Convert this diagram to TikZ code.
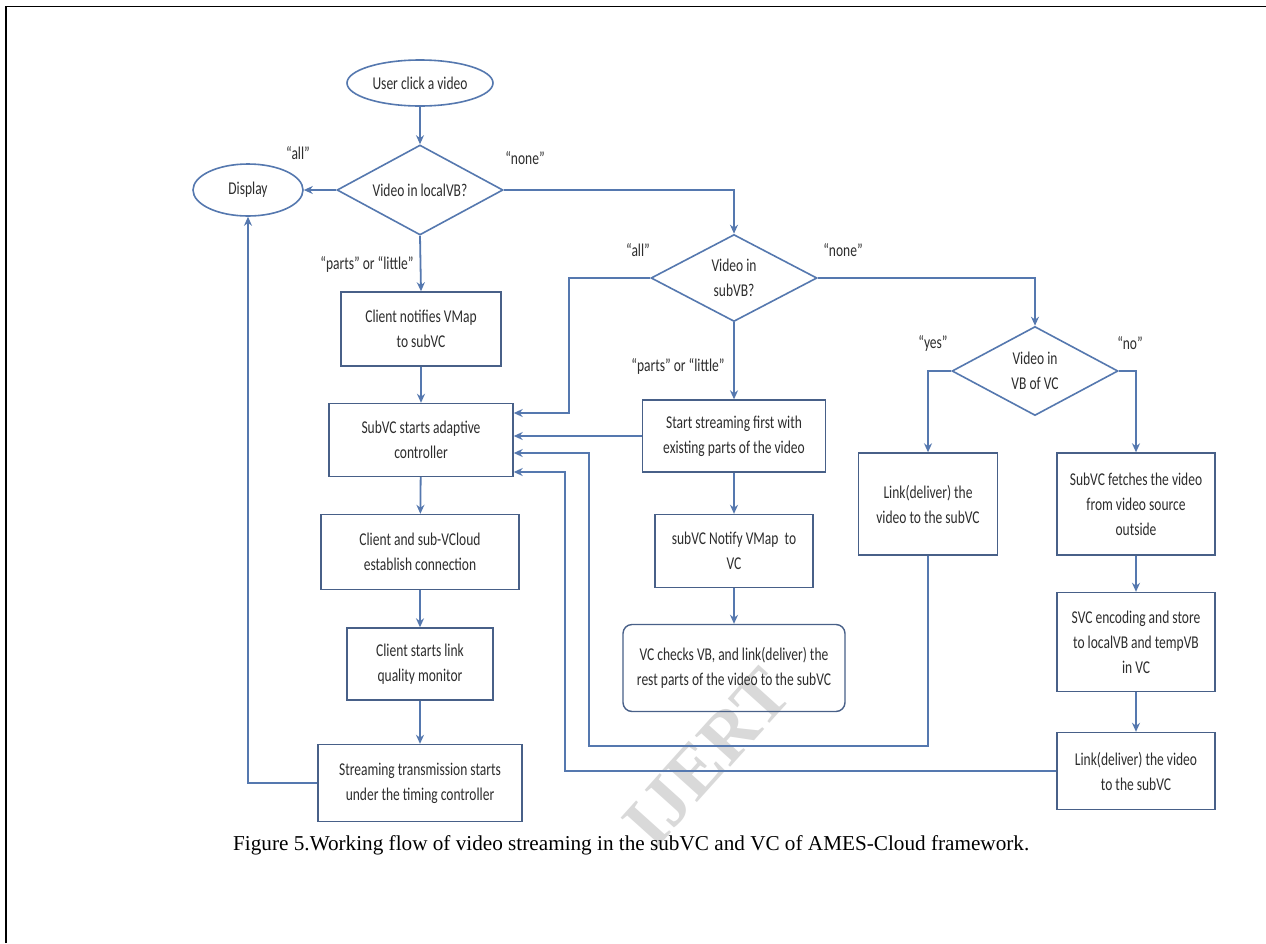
\documentclass[tikz,border=0pt]{standalone}
\usepackage{fontspec}
\setmainfont{Liberation Serif}
\newfontfamily\dfont[FakeStretch=0.75]{Carlito}
\usetikzlibrary{shapes.geometric,arrows.meta}
\definecolor{linecol}{RGB}{85,120,175}
\definecolor{boxcol}{RGB}{72,96,136}
\definecolor{txtcol}{RGB}{45,45,45}
\tikzset{
  dtxt/.style={font=\dfont\fontsize{18}{25}\selectfont, text=txtcol, align=center},
  procbox/.style={dtxt, draw=boxcol, line width=1.4pt, rectangle, inner sep=0pt},
  roundbox/.style={procbox, rounded corners=9pt},
  termin/.style={dtxt, draw=linecol, line width=1.6pt, ellipse, inner sep=0pt},
  decis/.style={draw=linecol, line width=1.6pt, diamond, inner sep=0pt},
  dlabel/.style={dtxt, inner sep=0pt},
  conn/.style={draw=linecol, line width=1.8pt},
  arr/.style={conn, -{Stealth[length=9pt,width=8pt]}},
}
\begin{document}
\begin{tikzpicture}[x=1pt,y=-1pt]
\useasboundingbox (0,0) rectangle (1266,943);
\fill[white] (0,0) rectangle (1266,943);
\draw[line width=1.8pt] (6,943) -- (6,6.5) -- (1266,6.5);

% watermark
\node[font=\bfseries\fontsize{72}{72}\selectfont, text=gray!30, rotate=48] (wm) at (707,758) {IJERT};

% left column
\node[termin, minimum width=146pt, minimum height=46pt] (start) at (420,83) {User click a video};
\node[decis, minimum width=166pt, minimum height=90pt] (d1) at (420,190) {};
\node[dlabel] (d1t) at (d1) {Video in localVB?};
\node[termin, minimum width=110pt, minimum height=52pt] (disp) at (248,190) {Display};
\node[procbox, minimum width=160pt, minimum height=74pt] (cnotify) at (421,329) {Client notifies VMap\\to subVC};
\node[procbox, minimum width=184pt, minimum height=73pt] (adapt) at (421,440) {SubVC starts adaptive\\controller};
\node[procbox, minimum width=198pt, minimum height=75pt] (estab) at (420,552) {Client and sub-VCloud\\establish connection};
\node[procbox, minimum width=146pt, minimum height=72pt] (monitor) at (420,664) {Client starts link\\quality monitor};
\node[procbox, minimum width=204pt, minimum height=77pt] (stream) at (420,783) {Streaming transmission starts\\under the timing controller};

% middle column
\node[decis, minimum width=166pt, minimum height=87pt] (d2) at (734,278) {};
\node[dlabel] (d2t) at (d2) {Video in\\subVB?};
\node[procbox, minimum width=183pt, minimum height=72pt] (ss) at (734,436) {Start streaming first with\\existing parts of the video};
\node[procbox, minimum width=158pt, minimum height=73pt] (vmap) at (734,551) {subVC Notify VMap\ \ to\\VC};
\node[roundbox, minimum width=222pt, minimum height=87pt] (vccheck) at (734,668) {VC checks VB, and link(deliver) the\\rest parts of the video to the subVC};

% right part
\node[decis, minimum width=166pt, minimum height=89pt] (d3) at (1035,371) {};
\node[dlabel] (d3t) at (d3) {Video in\\VB of VC};
\node[procbox, minimum width=139pt, minimum height=102pt] (lm) at (928,504) {Link(deliver) the\\video to the subVC};
\node[procbox, minimum width=158pt, minimum height=102pt] (fetch) at (1136,504) {SubVC fetches the video\\from video source\\outside};
\node[procbox, minimum width=158pt, minimum height=99pt] (svc) at (1136,642) {SVC encoding and store\\to localVB and tempVB\\in VC};
\node[procbox, minimum width=158pt, minimum height=77pt] (lr) at (1136,771) {Link(deliver) the video\\to the subVC};

% labels
\node[dlabel] (l1) at (298,153) {“all”};
\node[dlabel] (l2) at (525,158) {“none”};
\node[dlabel] (l3) at (367,264) {“parts” or “little”};
\node[dlabel] (l4) at (638,250) {“all”};
\node[dlabel] (l5) at (843,250) {“none”};
\node[dlabel] (l6) at (678,366) {“parts” or “little”};
\node[dlabel] (l7) at (933,343) {“yes”};
\node[dlabel] (l8) at (1130,343) {“no”};

% connectors
\draw[arr] (start) -- (d1);
\draw[arr] (d1.west) -- (disp.east);
\draw[arr] (d1.east) -| (d2.north);
\draw[arr] (d1.south) -- (cnotify.north);
\draw[arr] (cnotify) -- (adapt);
\draw[arr] (adapt) -- (estab);
\draw[arr] (estab) -- (monitor);
\draw[arr] (monitor) -- (stream);
\draw[arr] (stream.west) -| (disp.south);

\draw[arr] (d2.west) -- (569,278) |- ([yshift=27pt]adapt.east);
\draw[arr] (ss.west) -- (adapt.east |- ss.west);
\draw[arr] (d2.south) -- (ss.north);
\draw[arr] (ss) -- (vmap);
\draw[arr] (vmap) -- (vccheck);

\draw[arr] (d2.east) -| (d3.north);
\draw[arr] (d3.west) -| (lm.north);
\draw[arr] (d3.east) -| (fetch.north);
\draw[arr] (fetch) -- (svc);
\draw[arr] (svc) -- (lr);
\draw[arr] (lm.south) |- (589,746) |- ([yshift=-13pt]adapt.east);
\draw[arr] (lr.west) -- (565,771) |- ([yshift=-32pt]adapt.east);

% caption
\node[anchor=west, font=\fontsize{21.2}{24}\selectfont, inner sep=0pt] (cap) at (233,845) {Figure 5.Working flow of video streaming in the subVC and VC of AMES-Cloud framework.};
\end{tikzpicture}
\end{document}
